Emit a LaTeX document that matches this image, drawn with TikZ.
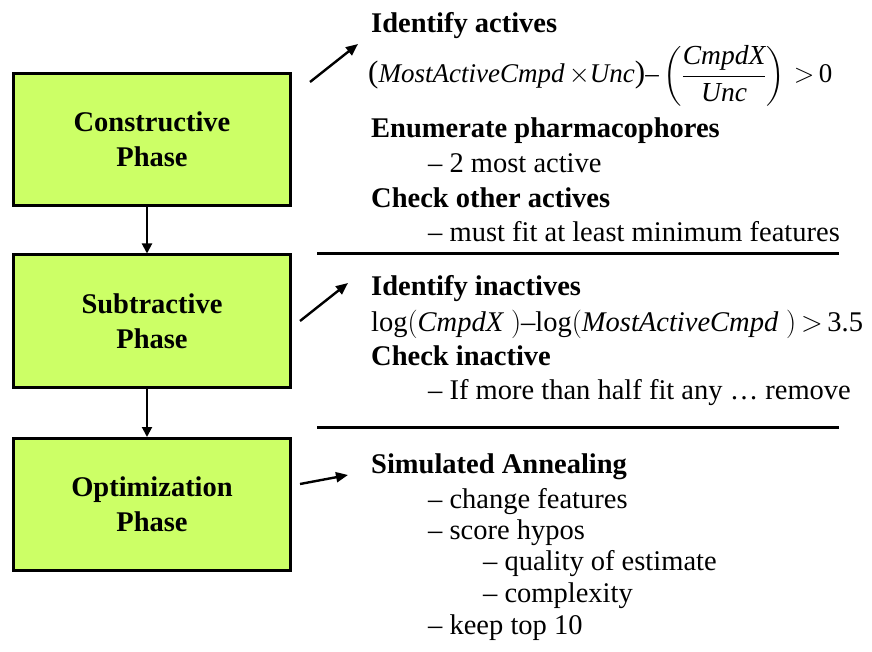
\RequirePackage{fix-cm}
\documentclass[tikz,border=0pt]{standalone}
\usepackage{amsmath}
\usepackage{fontspec}
\setmainfont{Liberation Serif}
\usepackage{xcolor}
\usepackage{tikz}
\usetikzlibrary{arrows.meta}
\definecolor{phasegreen}{RGB}{204,255,102}
\newcommand{\fracpart}[1]{\text{\fontsize{27.5}{29}\selectfont\itshape #1}}
\newcommand{\tallparen}[1]{\text{\fontsize{31}{31}\selectfont#1}}

\tikzset{
  phase/.style={draw, line width=3pt, fill=phasegreen, minimum width=277pt, minimum height=132pt,
    align=center, font=\bfseries\fontsize{28.5}{35}\selectfont},
  head/.style={anchor=base west, inner sep=0pt, font=\bfseries\fontsize{28.5}{34}\selectfont},
  item/.style={anchor=base west, inner sep=0pt, font=\fontsize{28.5}{34}\selectfont},
  formula/.style={anchor=base west, inner sep=0pt, font=\fontsize{27}{34}\selectfont},
  flow/.style={line width=2pt, -{Triangle[length=10pt,width=10pt]}},
  pointer/.style={line width=2.4pt, -{Triangle[length=12pt,width=10pt]}},
  rule/.style={line width=3pt}
}

\begin{document}
\begin{tikzpicture}[x=1pt, y=-1pt]
  \useasboundingbox (0,0) rectangle (872,652);

  % phases
  \node[phase] (cons) at (152,139.5) {Constructive\\Phase};
  \node[phase] (subt) at (152,321) {Subtractive\\Phase};
  \node[phase] (optim) at (152,504.5) {Optimization\\Phase};

  \draw[flow] ([xshift=-5pt]cons.south) -- ([xshift=-5pt]subt.north);
  \draw[flow] ([xshift=-5pt]subt.south) -- ([xshift=-5pt]optim.north);

  % constructive details
  \node[head] (idact) at (371,33) {Identify actives};
  \node[formula] (actform) at (368,83) {$\tallparen{(}\textit{MostActiveCmpd}\,{\times}\textit{Unc}\tallparen{)}\text{--}\left(\dfrac{\fracpart{CmpdX}}{\fracpart{Unc}}\right)\,{>}\,\text{0}$};
  \node[head] (enum) at (371,138) {Enumerate pharmacophores};
  \node[item] (enumA) at (428,173) {-- 2 most active};
  \node[head] (chkact) at (371,208) {Check other actives};
  \node[item] (chkactA) at (428,242) {-- must fit at least minimum features};

  % subtractive details
  \node[head] (idinact) at (371,295) {Identify inactives};
  \node[formula, font=\fontsize{28.5}{34}\selectfont] (inactform) at (371,331) {$\text{log}(\textit{CmpdX}\mkern5mu)\text{--}\text{log}(\textit{MostActiveCmpd}\mkern5mu)\,{>}\,\text{3.5}$};
  \node[head] (chkinact) at (371,365) {Check inactive};
  \node[item] (chkinactA) at (428,399) {-- If more than half fit any \dots\ remove};

  % optimization details
  \node[head] (anneal) at (371,473) {Simulated Annealing};
  \node[item] (annealA) at (428,508) {-- change features};
  \node[item] (annealB) at (428,539) {-- score hypos};
  \node[item] (annealBa) at (483,570) {-- quality of estimate};
  \node[item] (annealBb) at (483,602) {-- complexity};
  \node[item] (annealC) at (428,634) {-- keep top 10};

  % separators
  \coordinate (sepAl) at (317,254);
  \coordinate (sepAr) at (839,254);
  \coordinate (sepBl) at (317,427);
  \coordinate (sepBr) at (839,427);
  \draw[rule] (sepAl) -- (sepAr);
  \draw[rule] (sepBl) -- (sepBr);

  % pointers
  \coordinate (ptrA) at (310,82);
  \coordinate (ptrAt) at (358,44);
  \coordinate (ptrB) at (300,321);
  \coordinate (ptrBt) at (348,283);
  \coordinate (ptrC) at (300,484);
  \coordinate (ptrCt) at (348,475);
  \draw[pointer] (ptrA) -- (ptrAt);
  \draw[pointer] (ptrB) -- (ptrBt);
  \draw[pointer] (ptrC) -- (ptrCt);
\end{tikzpicture}
\end{document}
